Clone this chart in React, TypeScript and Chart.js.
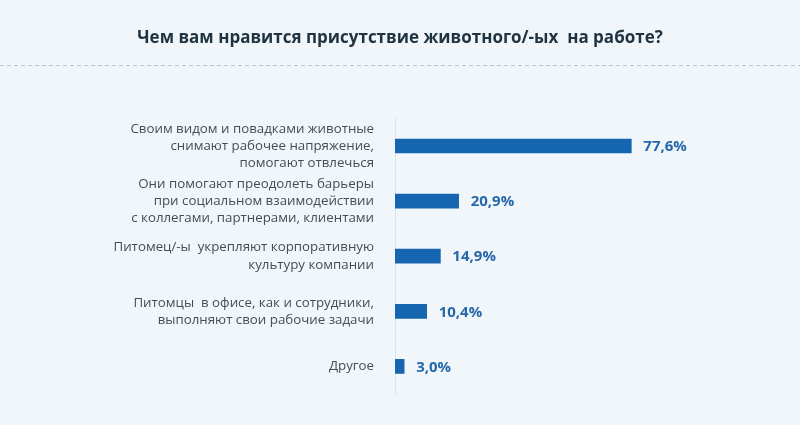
import { Chart, registerables } from "chart.js";
import { useEffect, useRef } from "react";

Chart.register(...registerables);

const categories: string[][] = [
  ["Своим видом и повадками животные", "снимают рабочее напряжение,", "помогают отвлечься"],
  ["Они помогают преодолеть барьеры", "при социальном взаимодействии", "с коллегами, партнерами, клиентами"],
  ["Питомец/-ы  укрепляют корпоративную", "культуру компании"],
  ["Питомцы  в офисе, как и сотрудники,", "выполняют свои рабочие задачи"],
  ["Другое"],
];
const shares = [77.6, 20.9, 14.9, 10.4, 3.0];
const titleText = "Чем вам нравится присутствие животного/-ых  на работе?";

const FONT = "'Open Sans', sans-serif";

const backdrop = {
  id: "backdrop",
  beforeDraw(chart: Chart) {
    const { ctx, width } = chart;
    ctx.save();
    ctx.fillStyle = "#f1f6fb";
    ctx.fillRect(0, 0, width, chart.height);
    ctx.strokeStyle = "#bcc7d1";
    ctx.lineWidth = 1;
    ctx.setLineDash([4, 3]);
    ctx.beginPath();
    ctx.moveTo(0, 65.5);
    ctx.lineTo(width, 65.5);
    ctx.stroke();
    ctx.restore();
  },
};

const valueLabels = {
  id: "valueLabels",
  afterDatasetsDraw(chart: Chart) {
    const { ctx } = chart;
    const meta = chart.getDatasetMeta(0);
    ctx.save();
    ctx.font = `bold 15px ${FONT}`;
    ctx.fillStyle = "#2569a9";
    ctx.textBaseline = "middle";
    meta.data.forEach((bar, i) => {
      const v = shares[i].toFixed(1).replace(".", ",") + "%";
      ctx.fillText(v, bar.x + 12, bar.y + 1);
    });
    ctx.restore();
  },
};

export default function App() {
  const canvasRef = useRef<HTMLCanvasElement | null>(null);
  const chartRef = useRef<Chart | null>(null);

  useEffect(() => {
    document.body.style.margin = "0";
    const canvas = canvasRef.current;
    if (!canvas) {
      return;
    }

    chartRef.current?.destroy();
    chartRef.current = new Chart(canvas, {
      type: "bar",
      data: {
        labels: categories,
        datasets: [
          {
            data: shares,
            backgroundColor: "#1565b0",
            barThickness: 14,
          },
        ],
      },
      options: {
        indexAxis: "y",
        animation: false,
        responsive: true,
        maintainAspectRatio: false,
        layout: { padding: { left: 0, right: 0, bottom: 31 } },
        plugins: {
          legend: { display: false },
          tooltip: { enabled: false },
          title: {
            display: true,
            text: titleText,
            color: "#1f3340",
            font: { family: FONT, size: 17, weight: "bold" },
            padding: { top: 28, bottom: 70 },
          },
        },
        scales: {
          x: { display: false, min: 0, max: 133 },
          y: {
            afterFit(scale) {
              scale.width = 395;
              scale.paddingTop = 0;
              scale.paddingBottom = 0;
            },
            grid: { display: false, drawTicks: false },
            border: { display: true, color: "#dbe3eb" },
            ticks: {
              padding: 21,
              color: "#434e56",
              font: { family: FONT, size: 13.3, lineHeight: 1.28 },
            },
          },
        },
      },
      plugins: [backdrop, valueLabels],
    });

    return () => {
      chartRef.current?.destroy();
      chartRef.current = null;
    };
  }, []);

  return (
    <div style={{ width: 800, height: 425, position: "relative" }}>
      <canvas ref={canvasRef} />
    </div>
  );
}
